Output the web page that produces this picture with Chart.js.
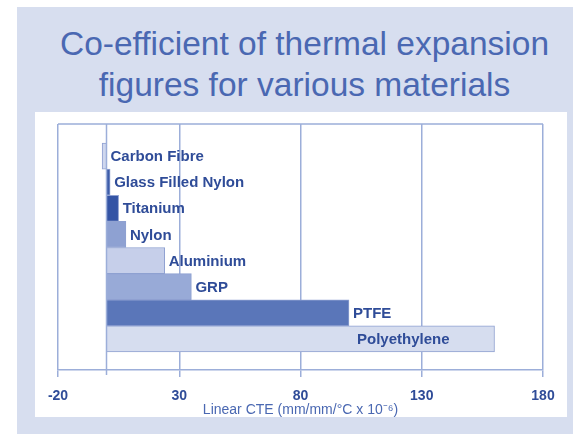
<!DOCTYPE html>
<html>
<head>
<meta charset="utf-8">
<script src="https://cdn.jsdelivr.net/npm/chart.js@4"></script>
<style>
  body { margin: 0; background: #fff; }
  #wrap { position: relative; width: 573px; height: 434px; overflow: hidden; }
  #outer { position: absolute; left: 17px; top: 7px; width: 556px; height: 427px; background: #d7deef; }
  #inner { position: absolute; left: 35px; top: 112px; width: 532px; height: 305px; background: #fff; }
  #title {
    position: absolute; left: 18px; top: 23px; width: 573px;
    text-align: center; font: 33.5px "Liberation Sans", Arial, sans-serif;
    line-height: 41px; color: #4a68b2; white-space: nowrap;
  }
  canvas { position: absolute; left: 0; top: 0; }
</style>
</head>
<body>
<div id="wrap">
  <div id="outer"></div>
  <div id="inner"></div>
  <div id="title">Co-efficient of thermal expansion<br>figures for various materials</div>
  <canvas id="myChart" width="573" height="434"></canvas>
</div>
<script>
// data
const materials = ["Carbon Fibre", "Glass Filled Nylon", "Titanium", "Nylon", "Aluminium", "GRP", "PTFE", "Polyethylene"]
const cteValues = [-1.8, 1.5, 5, 8, 24, 35, 100, 160]
const xTicks = [-20, 30, 80, 130, 180]
const axisTitle = "Linear CTE (mm/mm/°C x 10⁻⁶)"

const barColours = ["#cfd7ee", "#3d5ca9", "#3454a5", "#8ea1d2", "#c6cfea", "#98aad7", "#5a76b9", "#d6ddef"]
const gridColour = "#9caed9"
const textColour = "#2f4c98"

// zero line, top frame and bar labels
const extras = {
  id: "extras",
  afterDatasetsDraw(chart) {
    const ctx = chart.ctx
    const area = chart.chartArea
    const x = chart.scales.x
    const zero = x.getPixelForValue(0)
    ctx.save()
    ctx.strokeStyle = gridColour
    ctx.lineWidth = 1.5
    ctx.beginPath()
    ctx.moveTo(zero, area.top)
    ctx.lineTo(zero, area.bottom + 5)
    ctx.moveTo(area.left, area.top)
    ctx.lineTo(area.right, area.top)
    ctx.stroke()

    ctx.font = "bold 15px 'Liberation Sans', Arial, sans-serif"
    ctx.fillStyle = textColour
    ctx.textBaseline = "middle"
    chart.getDatasetMeta(0).data.forEach((bar, i) => {
      const end = Math.max(bar.x, zero)
      const w = ctx.measureText(materials[i]).width
      if (end + 4 + w > area.right) {
        ctx.textAlign = "right"
        ctx.fillText(materials[i], end - 45, bar.y + 1)
      } else {
        ctx.textAlign = "left"
        ctx.fillText(materials[i], end + 4, bar.y + 1)
      }
    })
    ctx.restore()
  },
}

new Chart(document.querySelector("#myChart"), {
  type: "bar",
  data: {
    datasets: [
      {
        data: cteValues.map((v, i) => ({ x: v, y: i })),
        backgroundColor: barColours,
        borderColor: "#8fa1d1",
        borderWidth: 1,
        barPercentage: 1,
        categoryPercentage: 1,
      },
    ],
  },
  options: {
    indexAxis: "y",
    responsive: false,
    animation: false,
    layout: { padding: { left: 58, right: 30, top: 124, bottom: 14 } },
    plugins: {
      legend: { display: false },
      tooltip: { enabled: false },
    },
    scales: {
      x: {
        type: "linear",
        min: xTicks[0],
        max: xTicks[xTicks.length - 1],
        afterBuildTicks: (scale) => {
          scale.ticks = xTicks.map((v) => ({ value: v }))
        },
        afterFit: (scale) => {
          scale.height = 50
        },
        grid: { color: gridColour, lineWidth: 1.5, tickLength: 7 },
        border: { color: gridColour, width: 1.5 },
        ticks: {
          padding: 11,
          color: textColour,
          font: { family: "'Liberation Sans', Arial, sans-serif", size: 14, weight: "bold" },
        },
        title: {
          display: true,
          text: axisTitle,
          color: "#4a68b2",
          padding: { top: 0, bottom: 1 },
          font: { family: "'Liberation Sans', Arial, sans-serif", size: 14 },
        },
      },
      y: {
        type: "linear",
        reverse: true,
        offset: false,
        min: -1.23,
        max: 8.19,
        display: false,
      },
    },
  },
  plugins: [extras],
})
</script>
</body>
</html>
